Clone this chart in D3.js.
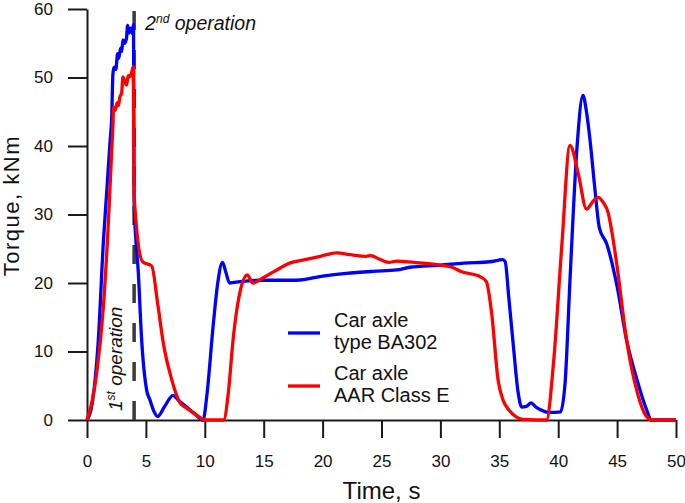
<!DOCTYPE html>
<html>
<head>
<meta charset="utf-8">
<script src="https://cdn.jsdelivr.net/npm/d3@7"></script>
<style>
  html, body { margin: 0; padding: 0; background: #fff; }
  svg { display: block; font-family: "Liberation Sans", Arial, sans-serif; }
</style>
</head>
<body>
<div id="chart"></div>
<script>
// Torque records (time in s, torque in kNm)
const timeBlue = [0, 0.4, 0.96, 1.39, 1.7, 1.95, 2.1, 2.2, 2.3, 2.45, 2.6, 2.7, 2.85, 2.95, 3.05, 3.2, 3.35, 3.45, 3.55, 3.7, 3.85, 3.95,
  4.0, 4.36, 4.64, 5.06, 5.35, 5.7, 6.0, 6.6, 7.3, 7.8, 8.46, 9.2, 9.85, 10.2, 10.7, 11.1, 11.5, 11.8, 12.1, 13, 15, 17.8, 20, 22,
  24.3, 26.3, 27.4, 30, 32, 34.2, 35.3, 35.5, 35.8, 36.2, 36.6, 36.9, 37.3, 37.7, 38.1, 38.5, 39.3, 40.2, 40.6, 41.0, 41.6, 42.1,
  42.4, 42.7, 43.1, 43.5, 44.1, 45.0, 45.8, 46.7, 47.5, 47.9, 50];
const torqueBlue = [0, 2, 11.7, 26, 34, 40.5, 44.3, 50.5, 51.5, 51.2, 53.5, 52.8, 54.3, 53.8, 55.5, 55.0, 55.7, 57.6, 56.5, 57.2, 56.4, 57.7,
  31.7, 21.4, 11.7, 4.4, 2.9, 1.2, 0.5, 2.0, 3.6, 2.8, 1.9, 0.8, 0, 4, 13.6, 20, 23.0, 21.5, 20.0, 20.2, 20.4, 20.4, 21.0, 21.4,
  21.7, 21.9, 22.3, 22.6, 22.9, 23.1, 23.4, 23.1, 18, 10.7, 4, 1.9, 2.0, 2.5, 1.9, 1.5, 1.1, 1.2, 5.8, 20.4, 39.9, 47.4,
  45, 40.9, 34, 28.0, 25.8, 19.5, 11.7, 5.8, 1.5, 0, 0];

const timeRed = [0, 0.4, 0.82, 1.39, 1.81, 2.1, 2.2, 2.25, 2.4, 2.55, 2.66, 2.8, 2.94, 3.05, 3.2, 3.36, 3.5, 3.65, 3.8, 3.93,
  4.0, 4.72, 5.49, 6.0, 6.5, 7.05, 7.9, 8.4, 8.9, 9.4, 9.85, 10.5, 11.6, 12.0, 12.4, 13.1, 13.6, 14.07, 15, 16.4, 17.2, 18.5,
  19.8, 21.2, 22.5, 23.7, 24.1, 24.8, 25.6, 26.3, 27.1, 28.5, 30, 31.0, 31.7, 33.4, 33.9, 34.35, 34.9, 35.3, 35.8, 36.4, 37.0,
  39.0, 39.6, 40.3, 41.0, 41.7, 42.4, 43.0, 43.4, 43.8, 44.25, 44.6, 45.0, 45.8, 46.7, 47.5, 48.0, 50];
const torqueRed = [0, 2.5, 6.8, 16.5, 28.7, 39.5, 43, 45.7, 45.2, 46.3, 45.9, 47.2, 47.7, 50.1, 49.4, 48.9, 50.3, 50.1, 50.8, 51.6,
  32.7, 23.1, 22.5, 17, 11, 6.8, 2.5, 1.8, 1.2, 0.6, 0.1, 0, 0, 4, 11.7, 19.5, 21.2, 20.0, 20.8, 22.2, 22.9, 23.4,
  23.9, 24.4, 24.1, 23.9, 24.0, 23.5, 23.0, 23.2, 23.1, 22.9, 22.6, 22.3, 21.7, 20.9, 20.2, 15.6, 5.8, 3, 1.5, 0.5, 0.1,
  0, 8.3, 25.3, 40.1, 36, 30.8, 32, 32.5, 31.8, 30.2, 27, 22.4, 11.7, 4.1, 0.5, 0, 0];

const xMajor = [0, 5, 10, 15, 20, 25, 30, 35, 40, 45, 50];
const yMajor = [0, 10, 20, 30, 40, 50, 60];
const seriesNames = [["Car axle", "type BA302"], ["Car axle", "AAR Class E"]];
const seriesColors = ["#0000ff", "#ff0000"];
const operationTime = 4; // dashed marker between the two operations

const W = 685, H = 503;
const M = { left: 87, right: 9, top: 9, bottom: 83 };

const svg = d3.select("#chart").append("svg")
  .attr("width", W)
  .attr("height", H);

const x = d3.scaleLinear().domain([0, 50]).range([M.left, W - M.right]);
const y = d3.scaleLinear().domain([0, 60]).range([H - M.bottom, M.top]);

// ── Axes ────────────────────────────────────────────────────────────────
const axisColor = "#1a1a1a";

const gx = svg.append("g").attr("transform", `translate(0,${y(0)})`);
gx.call(d3.axisBottom(x).tickValues(d3.range(0, 51, 1)).tickSize(9).tickSizeOuter(0).tickFormat(""));
gx.call(d3.axisBottom(x).tickValues(xMajor).tickSize(18).tickSizeOuter(0).tickPadding(17));

const gy = svg.append("g").attr("transform", `translate(${x(0)},0)`);
gy.call(d3.axisLeft(y).tickValues(d3.range(0, 61, 5)).tickSize(10).tickSizeOuter(0).tickFormat(""));
gy.call(d3.axisLeft(y).tickValues(yMajor).tickSize(19).tickSizeOuter(0).tickPadding(15));

svg.selectAll(".domain, .tick line")
  .attr("stroke", axisColor)
  .attr("stroke-width", 2);
svg.selectAll(".tick text")
  .attr("fill", "#111")
  .style("font-size", "17px")
  .style("font-family", "'Liberation Sans', Arial, sans-serif");

svg.append("text")
  .attr("x", x(25))
  .attr("y", 499)
  .attr("text-anchor", "middle")
  .style("font-size", "24px")
  .attr("fill", "#111")
  .text("Time, s");

svg.append("text")
  .attr("transform", `translate(19,${y(31.3)}) rotate(-90)`)
  .attr("text-anchor", "middle")
  .style("font-size", "22px")
  .style("letter-spacing", "1.5px")
  .attr("fill", "#111")
  .text("Torque, kNm");

// ── Operation marker ────────────────────────────────────────────────────
svg.append("line")
  .attr("x1", x(operationTime)).attr("x2", x(operationTime))
  .attr("y1", y(0)).attr("y2", y(60) - 1)
  .attr("stroke", "#3a3a3a")
  .attr("stroke-width", 3.5)
  .attr("stroke-dasharray", "19,20");

// ── Curves ──────────────────────────────────────────────────────────────
const line = d3.line()
  .x((d) => x(d[0]))
  .y((d) => y(d[1]))
  .curve(d3.curveMonotoneX);

const series = [
  d3.zip(timeBlue, torqueBlue),
  d3.zip(timeRed, torqueRed),
];

series.forEach((pts, i) => {
  svg.append("path")
    .datum(pts)
    .attr("fill", "none")
    .attr("stroke", seriesColors[i])
    .attr("stroke-width", 3.3)
    .attr("stroke-linejoin", "round")
    .attr("d", line);
});

// ── Annotations ─────────────────────────────────────────────────────────
const op2 = svg.append("text")
  .attr("x", x(operationTime) + 11)
  .attr("y", 30)
  .style("font-size", "19.5px")
  .style("font-style", "italic")
  .attr("fill", "#111");
op2.append("tspan").text("2");
op2.append("tspan").attr("dy", -7).style("font-size", "12px").text("nd");
op2.append("tspan").attr("dy", 7).text(" operation");

const op1 = svg.append("text")
  .attr("transform", `translate(${x(operationTime) - 12},${y(0) - 9}) rotate(-90)`)
  .style("font-size", "19px")
  .style("font-style", "italic")
  .attr("fill", "#111");
op1.append("tspan").text("1");
op1.append("tspan").attr("dy", -7).style("font-size", "12px").text("st");
op1.append("tspan").attr("dy", 7).text(" operation");

// ── Legend ──────────────────────────────────────────────────────────────
const legendY = [333, 386];
seriesNames.forEach((lines, i) => {
  const g = svg.append("g");
  g.append("line")
    .attr("x1", 288).attr("x2", 320)
    .attr("y1", legendY[i]).attr("y2", legendY[i])
    .attr("stroke", seriesColors[i])
    .attr("stroke-width", 3.3);
  lines.forEach((t, j) => {
    g.append("text")
      .attr("x", 334)
      .attr("y", legendY[i] - 6 + j * 21.5)
      .style("font-size", "20px")
      .attr("fill", "#111")
      .text(t);
  });
});
</script>
</body>
</html>
